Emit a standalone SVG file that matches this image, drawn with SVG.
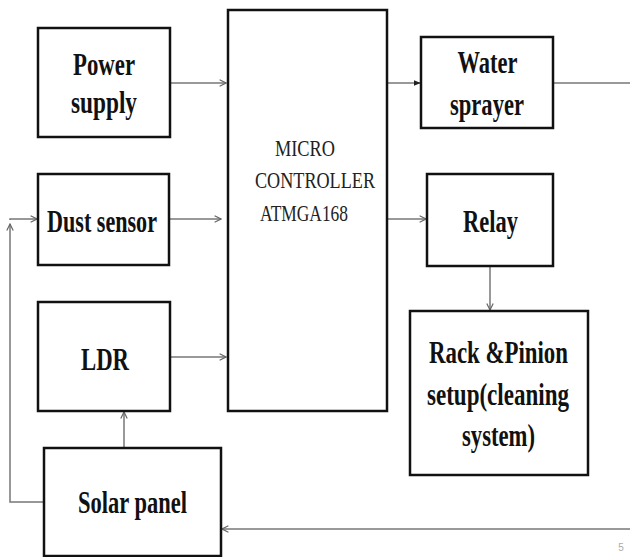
<svg xmlns="http://www.w3.org/2000/svg" width="630" height="557" viewBox="0 0 630 557">
<defs>
<marker id="open" viewBox="0 0 10 10" refX="9" refY="5" markerWidth="8" markerHeight="8" markerUnits="userSpaceOnUse" orient="auto">
<path d="M1,1 L9,5 L1,9" fill="none" stroke="#666" stroke-width="1.5"/>
</marker>
<marker id="solid" viewBox="0 0 10 10" refX="9" refY="5" markerWidth="7" markerHeight="7" markerUnits="userSpaceOnUse" orient="auto">
<path d="M0,1 L10,5 L0,9 Z" fill="#222"/>
</marker>
</defs>
<style>
.box{fill:#fff;stroke:#111;stroke-width:2.5}
.conn{fill:none;stroke:#777;stroke-width:1.5}
.lbl{font-family:'Liberation Serif','Times New Roman','DejaVu Serif',serif;font-weight:bold;font-size:31px;fill:#111}
.mcu{font-family:'Liberation Serif','Times New Roman','DejaVu Serif',serif;font-size:23px;fill:#222}
</style>
<rect width="630" height="557" fill="#fff"/>
<g id="connectors">
<line class="conn" x1="170" y1="83" x2="226" y2="83" marker-end="url(#open)"/>
<line class="conn" x1="170" y1="219" x2="221" y2="219" marker-end="url(#open)"/>
<line class="conn" x1="170" y1="357" x2="226" y2="357" marker-end="url(#open)"/>
<line class="conn" x1="387" y1="83" x2="420" y2="83" marker-end="url(#solid)"/>
<line class="conn" x1="553" y1="83" x2="630" y2="83"/>
<line class="conn" x1="387" y1="219" x2="426" y2="219" marker-end="url(#open)"/>
<line class="conn" x1="490" y1="266" x2="490" y2="310" marker-end="url(#open)"/>
<line class="conn" x1="124" y1="448" x2="124" y2="412" marker-end="url(#open)"/>
<path class="conn" d="M44,502 L10,502 L10,224" marker-end="url(#open)"/>
<path class="conn" d="M10,220 L10,219 L37,219" marker-end="url(#open)"/>
<line class="conn" x1="630" y1="529" x2="222" y2="529" marker-end="url(#open)"/>
</g>
<g id="power-supply">
<rect class="box" x="38" y="28" width="132" height="109"/>
<text class="lbl" x="104" y="75" text-anchor="middle" textLength="62" lengthAdjust="spacingAndGlyphs">Power</text>
<text class="lbl" x="104" y="113" text-anchor="middle" textLength="66" lengthAdjust="spacingAndGlyphs">supply</text>
</g>
<g id="dust-sensor">
<rect class="box" x="38" y="174" width="131" height="91"/>
<text class="lbl" x="102" y="232" text-anchor="middle" textLength="110" lengthAdjust="spacingAndGlyphs">Dust sensor</text>
</g>
<g id="ldr">
<rect class="box" x="38" y="302" width="132" height="109"/>
<text class="lbl" x="105" y="370" text-anchor="middle" textLength="48" lengthAdjust="spacingAndGlyphs">LDR</text>
</g>
<g id="solar-panel">
<rect class="box" x="44" y="448" width="177" height="108"/>
<text class="lbl" x="132.5" y="513" text-anchor="middle" textLength="109" lengthAdjust="spacingAndGlyphs">Solar panel</text>
</g>
<g id="microcontroller">
<rect class="box" x="228" y="10" width="159" height="401"/>
<text class="mcu" x="305" y="156" text-anchor="middle" textLength="60" lengthAdjust="spacingAndGlyphs">MICRO</text>
<text class="mcu" x="315" y="188" text-anchor="middle" textLength="120" lengthAdjust="spacingAndGlyphs">CONTROLLER</text>
<text class="mcu" x="304" y="221" text-anchor="middle" textLength="88" lengthAdjust="spacingAndGlyphs">ATMGA168</text>
</g>
<g id="water-sprayer">
<rect class="box" x="421" y="37" width="132" height="91"/>
<text class="lbl" x="487.5" y="73" text-anchor="middle" textLength="60" lengthAdjust="spacingAndGlyphs">Water</text>
<text class="lbl" x="487" y="115" text-anchor="middle" textLength="74" lengthAdjust="spacingAndGlyphs">sprayer</text>
</g>
<g id="relay">
<rect class="box" x="427" y="174" width="126" height="92"/>
<text class="lbl" x="490.5" y="232" text-anchor="middle" textLength="55" lengthAdjust="spacingAndGlyphs">Relay</text>
</g>
<g id="rack-pinion">
<rect class="box" x="410" y="311" width="178" height="164"/>
<text class="lbl" x="498.5" y="363" text-anchor="middle" textLength="139" lengthAdjust="spacingAndGlyphs">Rack &amp;Pinion</text>
<text class="lbl" x="498" y="405" text-anchor="middle" textLength="142" lengthAdjust="spacingAndGlyphs">setup(cleaning</text>
<text class="lbl" x="498.5" y="446" text-anchor="middle" textLength="73" lengthAdjust="spacingAndGlyphs">system)</text>
</g>
<text x="621" y="551" font-family="'Liberation Sans', sans-serif" font-size="10" fill="#aaa" text-anchor="middle">5</text>
</svg>
